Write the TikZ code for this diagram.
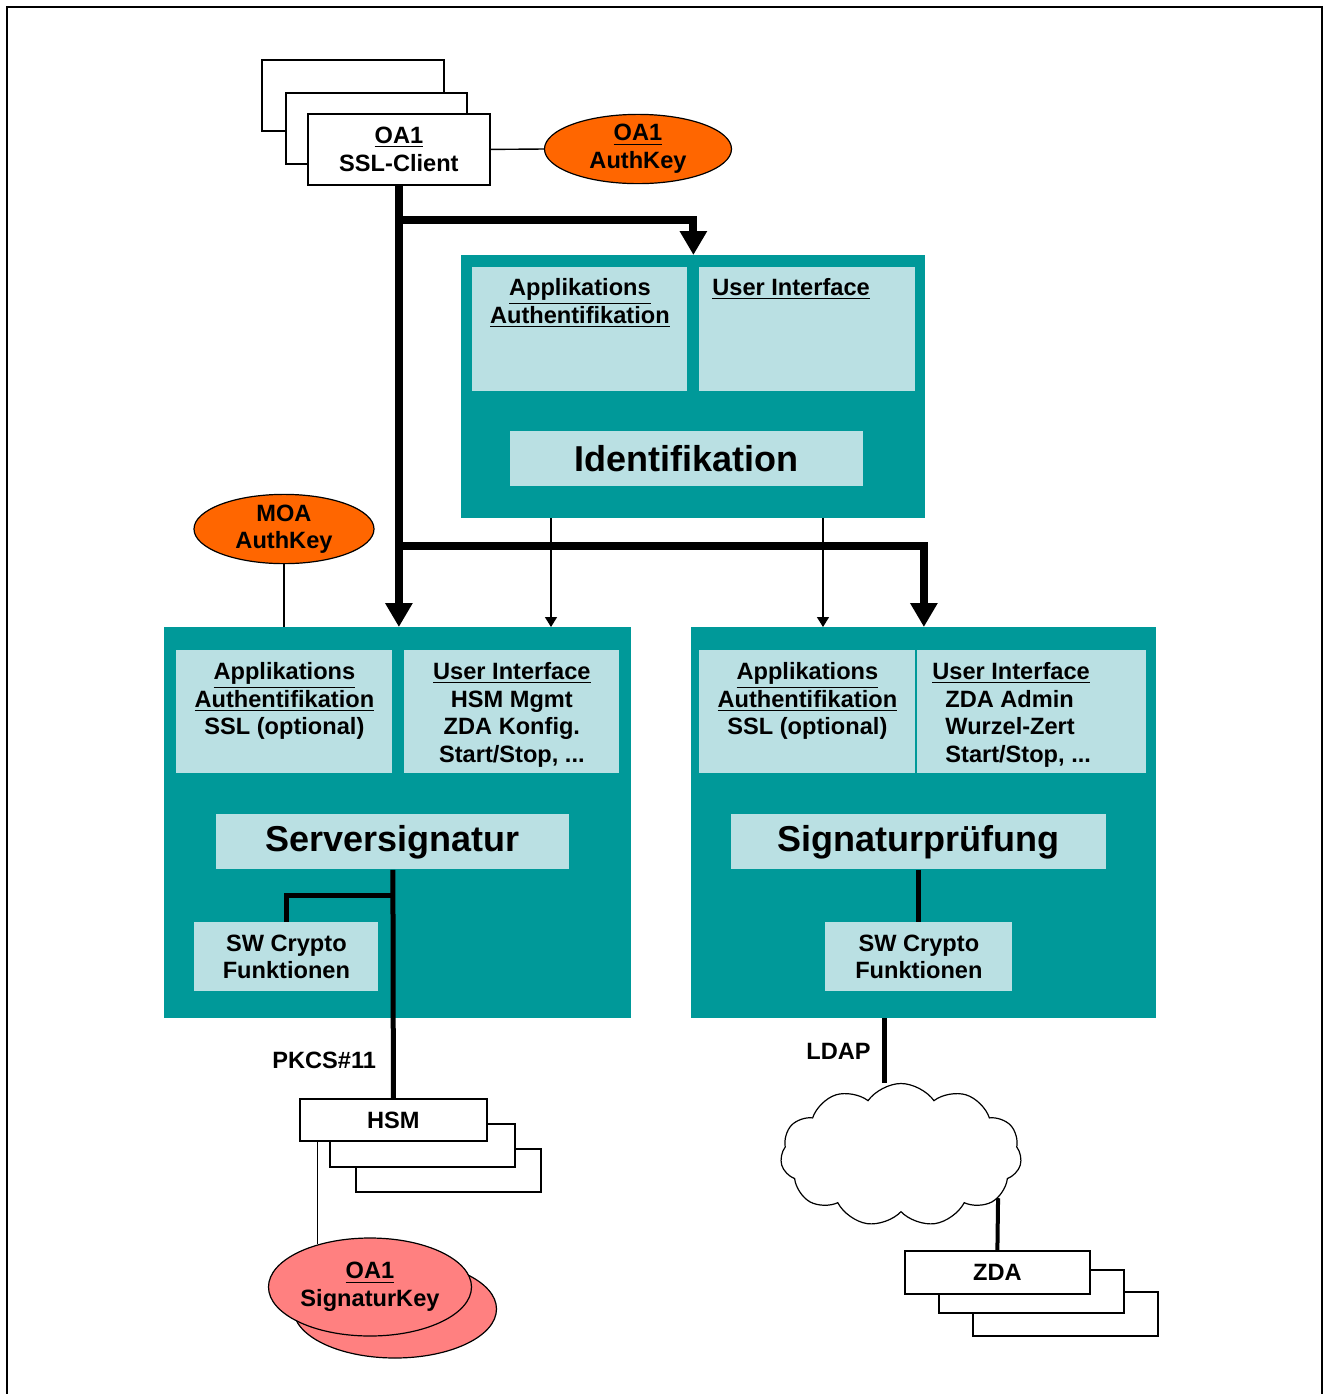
\documentclass[tikz,border=0pt]{standalone}
\usepackage{fontspec}
\setmainfont{Liberation Sans}
\usetikzlibrary{positioning,arrows.meta,shapes.geometric,shapes.symbols}

\definecolor{panelteal}{RGB}{0,153,153}
\definecolor{paneltint}{RGB}{186,224,227}
\definecolor{keyorange}{RGB}{255,102,0}
\definecolor{keysalmon}{RGB}{255,128,128}

\tikzset{
  txt/.style={font=\bfseries\fontsize{11.8}{13.8}\selectfont, align=center, inner sep=0pt},
  card/.style={draw, fill=white, line width=0.9pt, anchor=north west, txt},
  panel/.style={fill=panelteal, inner sep=0pt, anchor=north west},
  pane/.style={fill=paneltint, inner sep=0pt, anchor=north west},
  title/.style={pane, font=\bfseries\fontsize{18}{20}\selectfont},
  keyoval/.style={ellipse, draw, line width=0.6pt, txt},
  bus/.style={line width=4pt, -{Triangle[width=13pt,length=12pt]}},
  feed/.style={line width=0.7pt, -{Triangle[width=6pt,length=5pt]}},
  wire/.style={line width=2.5pt},
  tie/.style={line width=0.7pt}
}

\begin{document}
\begin{tikzpicture}[x=0.5pt, y=-0.5pt]
\useasboundingbox (0,0) rectangle (1324,1394);
\draw[line width=1.3pt] (7,7) rectangle (1322,1420);

% OA1 client stack
\node[card, minimum width=91pt, minimum height=35.5pt] (sslBack) at (261,59) {};
\node[card, minimum width=90.5pt, minimum height=35.5pt] (sslMid) at (285,92) {};
\node[card, minimum width=91pt, minimum height=35.5pt] (ssl) at (307,113) {\underline{OA1}\\SSL-Client};
\node[keyoval, fill=keyorange, minimum width=93.5pt, minimum height=31pt] (oaKey) at (638,149) {\underline{OA1}\\AuthKey};
\draw[tie] (ssl.east) -- (oaKey.west);

% Identifikation
\node[panel, minimum width=232pt, minimum height=131.5pt] (ident) at (461,255) {};
\node[pane, minimum width=107.5pt, minimum height=62pt] (identApp) at (472,267) {};
\node[pane, minimum width=108pt, minimum height=62pt] (identUI) at (699,267) {};
\node[title, minimum width=176.5pt, minimum height=27.5pt] (identTitle) at (510,431) {Identifikation};
\node[txt, below=5.5pt of identApp.north] (identAppTxt) {\underline{Applikations}\\\underline{Authentifikation}};
\node[txt, below right=5.5pt and 6.5pt of identUI.north west] (identUITxt) {\underline{User Interface}};

% Serversignatur
\node[panel, minimum width=233.5pt, minimum height=195.5pt] (server) at (164,627) {};
\node[pane, minimum width=108pt, minimum height=61.5pt] (serverApp) at (176,650) {};
\node[pane, minimum width=107.5pt, minimum height=61.5pt] (serverUI) at (404,650) {};
\node[title, minimum width=176.5pt, minimum height=27.5pt] (serverTitle) at (216,814) {Serversignatur};
\node[pane, txt, minimum width=92pt, minimum height=34.5pt] (serverSW) at (194,922) {SW Crypto\\Funktionen};
\node[txt, below=6pt of serverApp.north] (serverAppTxt) {\underline{Applikations}\\\underline{Authentifikation}\\SSL (optional)};
\node[txt, below=6pt of serverUI.north] (serverUITxt) {\underline{User Interface}\\HSM Mgmt\\ZDA Konfig.\\Start/Stop, ...};

% Signaturpruefung
\node[panel, minimum width=232.5pt, minimum height=195.5pt] (verify) at (691,627) {};
\node[pane, minimum width=108pt, minimum height=61.5pt] (verifyApp) at (699,650) {};
\node[pane, minimum width=114.5pt, minimum height=61.5pt] (verifyUI) at (917,650) {};
\node[title, minimum width=187.5pt, minimum height=27.5pt] (verifyTitle) at (731,814) {Signaturprüfung};
\node[pane, txt, minimum width=93.5pt, minimum height=34.5pt] (verifySW) at (825,922) {SW Crypto\\Funktionen};
\node[txt, below=6pt of verifyApp.north] (verifyAppTxt) {\underline{Applikations}\\\underline{Authentifikation}\\SSL (optional)};
\node[txt, align=left, below right=6pt and 7.5pt of verifyUI.north west] (verifyUITxt) {\underline{User Interface}\\\hspace*{6.5pt}ZDA Admin\\\hspace*{6.5pt}Wurzel-Zert\\\hspace*{6.5pt}Start/Stop, ...};

% MOA key
\node[keyoval, fill=keyorange, minimum width=90pt, minimum height=34pt] (moaKey) at (284,529) {MOA\\AuthKey};
\draw[tie] (moaKey.south) -- (moaKey.south |- server.north);

% main bus
\coordinate (fork1) at (398,220);
\coordinate (fork2) at (398,546);
\draw[bus] (ssl.south) -- (ssl.south |- server.north);
\draw[bus] (fork1) -| (ident.north);
\draw[bus] (fork2) -| (verify.north);

% from Identifikation
\coordinate (identL) at (551,518);
\coordinate (identR) at (823,518);
\draw[feed] (identL) -- (identL |- server.north);
\draw[feed] (identR) -- (identR |- verify.north);

% HSM stack
\node[card, minimum width=92.5pt, minimum height=21.5pt] (hsmBack) at (355,1148) {};
\node[card, minimum width=92.5pt, minimum height=21.5pt] (hsmMid) at (329,1123) {};
\node[card, minimum width=93.5pt, minimum height=21pt] (hsm) at (299,1098) {HSM};
\node[txt, anchor=base west] (pkcs) at (272,1068) {PKCS\#11};

\coordinate (swTap) at (393,895);
\draw[wire] (serverTitle.south) -- (hsm.north);
\draw[wire] (swTap) -| (serverSW.north);
\draw[wire] (verifyTitle.south) -- (verifySW.north);

% signature key
\node[keyoval, fill=keysalmon, minimum width=101.5pt, minimum height=49pt] (sigKeyBack) at (395,1309) {};
\node[keyoval, fill=keysalmon, minimum width=101.5pt, minimum height=49pt] (sigKey) at (370,1287) {\underline{OA1}\\SignaturKey};
\draw[tie] (sigKey.141) -- (sigKey.141 |- hsm.south);

% directory
\node[cloud, draw, fill=white, cloud puffs=11, cloud puff arc=110, cloud ignores aspect,
      minimum width=120.5pt, minimum height=71.5pt, inner sep=0pt, line width=0.6pt] (net) at (901,1155) {};
\coordinate (ldapTop) at (884,1018);
\draw[wire] (ldapTop) -- (ldapTop |- net.north);
\node[txt, anchor=base west] (ldap) at (806,1059) {LDAP};

% ZDA stack
\node[card, minimum width=92.5pt, minimum height=22pt] (zdaBack) at (972,1291) {};
\node[card, minimum width=92.5pt, minimum height=21.5pt] (zdaMid) at (938,1269) {};
\node[card, minimum width=92.5pt, minimum height=21.5pt] (zda) at (904,1250) {ZDA};
\draw[line width=2pt] (net.-24) -- (zda.north);
\end{tikzpicture}
\end{document}
